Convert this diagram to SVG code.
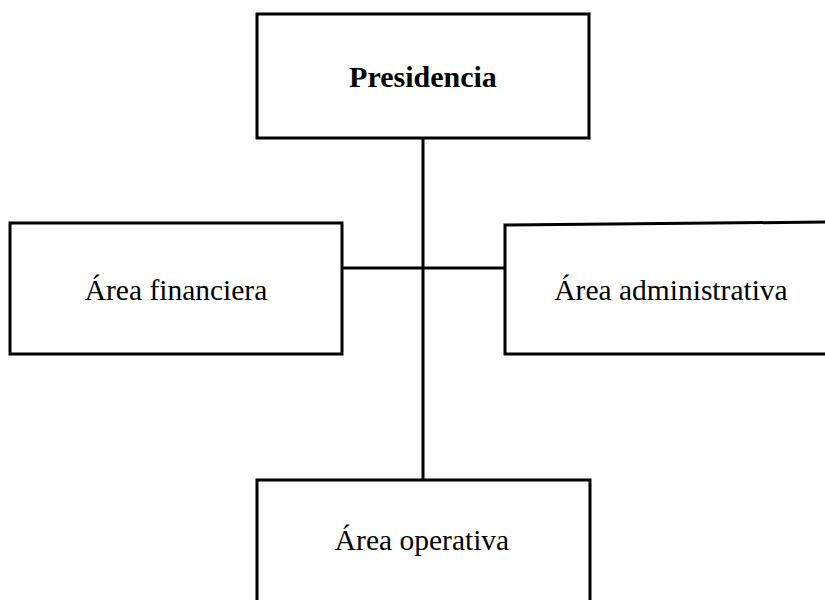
<svg xmlns="http://www.w3.org/2000/svg" width="825" height="600" viewBox="0 0 825 600">
<style>
.box{fill:#fff;stroke:#000;stroke-width:3}
.conn{stroke:#000;stroke-width:3;fill:none}
text{font-family:"Liberation Serif","Times New Roman",serif;font-size:29.5px;fill:#000;text-anchor:middle}
.b{font-weight:bold;font-size:30px}
</style>
<rect width="825" height="600" fill="#fff"/>
<g id="connectors">
<line class="conn" x1="423" y1="137" x2="423" y2="480"/>
<line class="conn" x1="342" y1="268" x2="505" y2="268"/>
</g>
<g id="presidencia">
<rect class="box" x="257" y="14" width="332" height="124"/>
<text class="b" x="423" y="87">Presidencia</text>
</g>
<g id="financiera">
<rect class="box" x="10" y="223" width="332" height="131"/>
<text x="176" y="300">Área financiera</text>
</g>
<g id="administrativa">
<path class="box" d="M830,222 L505,225 L505,354 L830,354"/>
<text x="671" y="300">Área administrativa</text>
</g>
<g id="operativa">
<path class="box" d="M257,610 L257,480 L590,480 L590,610"/>
<text x="422" y="550">Área operativa</text>
</g>
</svg>
